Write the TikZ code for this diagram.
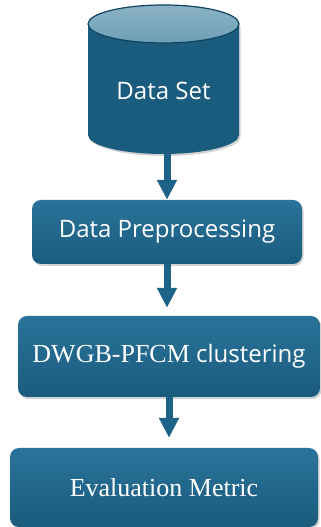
\documentclass[tikz,border=0pt]{standalone}
\usepackage{fontspec}
\usepackage{xcolor}
\usetikzlibrary{arrows.meta,shadows}
\newfontfamily\labelsans{Open Sans}
\newfontfamily\labelserif{Liberation Serif}
\definecolor{boxblue}{HTML}{1A5C7E}
\definecolor{boxlight}{HTML}{2A7399}
\definecolor{capblue}{HTML}{6E9FB6}
\definecolor{rimblue}{HTML}{0F4561}
\definecolor{arrowblue}{HTML}{1D6388}

\begin{document}
\begin{tikzpicture}[x=1pt, y=1pt,
  stage/.style={rounded corners=9pt, top color=boxlight, bottom color=boxblue,
    text=white, inner sep=0pt,
    drop shadow={opacity=0.35, shadow xshift=1.5pt, shadow yshift=-2pt}},
  flow/.style={line width=7pt, arrowblue, -{Triangle[width=19pt, length=20pt]}},
  sanstext/.style={font=\labelsans\fontsize{24}{28}\selectfont},
  seriftext/.style={font=\labelserif\fontsize{26}{30}\selectfont}]
  \useasboundingbox (0,0) rectangle (321,527);
  % data set cylinder
  \fill[boxblue, drop shadow={opacity=0.35, shadow xshift=1.5pt, shadow yshift=-2pt}]
    (88,503) -- (88,392) arc[start angle=180, end angle=360, x radius=75.5, y radius=19]
    -- (239,503) -- cycle;
  \filldraw[top color=capblue!80!white, bottom color=capblue, draw=rimblue, line width=1.2pt]
    (163.5,503) ellipse[x radius=75.5, y radius=19];
  \node[sanstext, text=white, minimum width=151pt, minimum height=126pt] (ds) at (163.5,436) {Data Set};
  % stages
  \node[stage, sanstext, minimum width=270pt, minimum height=64pt] (pre) at (167,295) {Data Preprocessing};
  \node[stage, seriftext, minimum width=302pt, minimum height=81pt] (clu) at (169,170.5)
    {DWGB-PFCM{\labelsans\fontsize{24}{28}\selectfont\ clustering}};
  \node[stage, seriftext, minimum width=308pt, minimum height=79pt] (ev) at (164,39.5) {Evaluation Metric};
  % arrows
  \draw[flow] (pre.north |- ds.south) -- (pre.north);
  \draw[flow, shorten >=8pt] (pre.south) -- (pre.south |- clu.north);
  \draw[flow, shorten >=10pt] (clu.south) -- (clu.south |- ev.north);
\end{tikzpicture}
\end{document}
